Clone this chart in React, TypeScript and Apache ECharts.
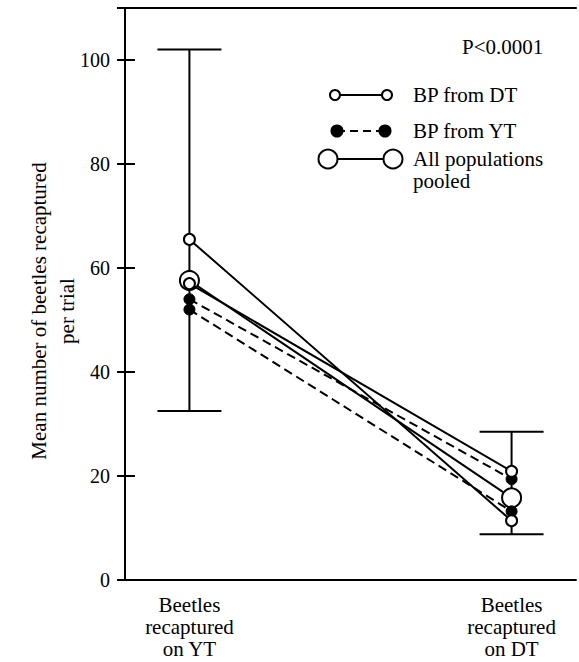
import React, { useEffect, useRef } from "react";
import * as echarts from "echarts";

// ---- data ----
const categories = ["Beetles\nrecaptured\non YT", "Beetles\nrecaptured\non DT"];
const categoryX = [1, 6];
const bpFromDT_a = [65.5, 11.4];
const bpFromDT_b = [57.0, 20.9];
const bpFromYT_a = [54.0, 19.4];
const bpFromYT_b = [52.0, 13.2];
const pooled = [57.6, 15.8];
const pooledLow = [32.5, 8.8];
const pooledHigh = [102, 28.5];
const yTickLabels = [0, 20, 40, 60, 80, 100];
const legendLabels = ["BP from DT", "BP from YT", "All populations\npooled"];
const yTitle = "Mean number of beetles recaptured\nper trial";
const pText = "P<0.0001";

const FONT = "Liberation Serif";
const FS = 21;

const pair = (vals: number[]) => vals.map((v, i) => [categoryX[i], v]);

export default function App() {
  const ref = useRef<HTMLDivElement>(null);
  useEffect(() => {
    if (!ref.current) return;
    const chart = echarts.init(ref.current, undefined, { renderer: "svg" });
    const openSmall = {
      symbol: "circle",
      symbolSize: 11,
      itemStyle: { color: "#fff", borderColor: "#000", borderWidth: 2 },
    };
    const filledSmall = {
      symbol: "circle",
      symbolSize: 11,
      itemStyle: { color: "#000", borderColor: "#000", borderWidth: 1 },
    };
    const lineSolid = { color: "#000", width: 2, type: "solid" as const };
    const lineDash = { color: "#000", width: 2, type: [9, 5] as any };
    const txt = (text: string, x: number, y: number, extra: any = {}) => ({
      type: "text",
      x,
      y,
      z: 10,
      style: {
        text,
        fill: "#000",
        fontFamily: FONT,
        fontSize: FS,
        verticalAlign: "middle",
        ...extra,
      },
    });
    const circ = (cx: number, cy: number, r: number, filled: boolean) => ({
      type: "circle",
      shape: { cx, cy, r },
      style: { fill: filled ? "#000" : "#fff", stroke: "#000", lineWidth: 2 },
      z: 10,
    });
    const seg = (x1: number, y1: number, x2: number, y2: number, dash?: number[]) => ({
      type: "line",
      shape: { x1, y1, x2, y2 },
      style: { stroke: "#000", lineWidth: 2, lineDash: dash },
      z: 9,
    });
    chart.setOption({
      animation: false,
      grid: { left: 125, right: 2, top: 8, bottom: 82 },
      xAxis: [
        {
          type: "value",
          min: 0,
          max: 7,
          interval: 1,
          position: "bottom",
          axisLine: { show: true, onZero: false, lineStyle: { color: "#000", width: 2 } },
          axisTick: { show: false },
          splitLine: { show: false },
          axisLabel: {
            formatter: (v: number) => {
              const i = categoryX.indexOf(v);
              return i >= 0 ? categories[i] : "";
            },
            color: "#000",
            fontFamily: FONT,
            fontSize: FS,
            lineHeight: 22,
            margin: 14,
            align: "center",
          },
        },
        {
          type: "value",
          min: 0,
          max: 7,
          position: "top",
          axisLine: { show: true, onZero: false, lineStyle: { color: "#000", width: 2 } },
          axisTick: { show: false },
          axisLabel: { show: false },
          splitLine: { show: false },
        },
      ],
      yAxis: [
        {
          type: "value",
          min: 0,
          max: 110,
          interval: 20,
          position: "left",
          axisLine: { show: true, onZero: false, lineStyle: { color: "#000", width: 2 } },
          axisTick: { show: true, inside: true, length: 10, lineStyle: { color: "#000", width: 2 } },
          splitLine: { show: false },
          axisLabel: {
            formatter: (v: number) => (yTickLabels.indexOf(v) >= 0 ? String(v) : ""),
            color: "#000",
            fontFamily: FONT,
            fontSize: 20,
            margin: 15,
          },
        },
        {
          type: "value",
          min: 0,
          max: 110,
          interval: 20,
          position: "right",
          axisLine: { show: false },
          axisTick: { show: true, inside: true, length: 8, lineStyle: { color: "#000", width: 2 } },
          axisLabel: { show: false },
          splitLine: { show: false },
        },
      ],
      series: [
        {
          type: "custom",
          z: 1,
          data: categoryX.map((x, i) => [x, pooledLow[i], pooledHigh[i]]),
          encode: { x: 0, y: [1, 2] },
          renderItem: (params: any, api: any) => {
            const x = api.value(0);
            const lo = api.coord([x, api.value(1)]);
            const hi = api.coord([x, api.value(2)]);
            const hw = 32;
            const style = { stroke: "#000", lineWidth: 2 };
            return {
              type: "group",
              children: [
                { type: "line", shape: { x1: lo[0], y1: lo[1], x2: hi[0], y2: hi[1] }, style },
                { type: "line", shape: { x1: lo[0] - hw, y1: lo[1], x2: lo[0] + hw, y2: lo[1] }, style },
                { type: "line", shape: { x1: hi[0] - hw, y1: hi[1], x2: hi[0] + hw, y2: hi[1] }, style },
              ],
            };
          },
        },
        {
          name: "All populations pooled",
          type: "line",
          z: 2,
          data: pair(pooled),
          symbol: "circle",
          symbolSize: 19,
          itemStyle: { color: "#fff", borderColor: "#000", borderWidth: 2 },
          lineStyle: lineSolid,
        },
        { name: "BP from YT", type: "line", z: 3, data: pair(bpFromYT_a), ...filledSmall, lineStyle: lineDash },
        { name: "BP from YT", type: "line", z: 3, data: pair(bpFromYT_b), ...filledSmall, lineStyle: lineDash },
        { name: "BP from DT", type: "line", z: 4, data: pair(bpFromDT_b), ...openSmall, lineStyle: lineSolid },
        { name: "BP from DT", type: "line", z: 4, data: pair(bpFromDT_a), ...openSmall, lineStyle: lineSolid },
      ],
      graphic: [
        txt(pText, 462, 47),
        // legend row 1
        seg(335, 95, 387, 95),
        circ(335, 95, 5, false),
        circ(387, 95, 5, false),
        txt(legendLabels[0], 413, 95),
        // legend row 2
        seg(337, 131, 385, 131, [8, 5]),
        circ(337, 131, 5.5, true),
        circ(385, 131, 5.5, true),
        txt(legendLabels[1], 413, 131),
        // legend row 3
        seg(328, 159, 393, 159),
        circ(328, 159, 9.5, false),
        circ(393, 159, 9.5, false),
        txt(legendLabels[2], 413, 170, { lineHeight: 22 }),
        // y axis title
        {
          type: "text",
          x: 53,
          y: 311,
          rotation: Math.PI / 2,
          style: {
            text: yTitle,
            fill: "#000",
            fontFamily: FONT,
            fontSize: FS,
            align: "center",
            verticalAlign: "middle",
            lineHeight: 28,
          },
        },
      ],
    });
    return () => chart.dispose();
  }, []);
  return (
    <div
      ref={ref}
      style={{ position: "fixed", left: 0, top: 0, width: 579, height: 662, background: "#fff" }}
    />
  );
}
